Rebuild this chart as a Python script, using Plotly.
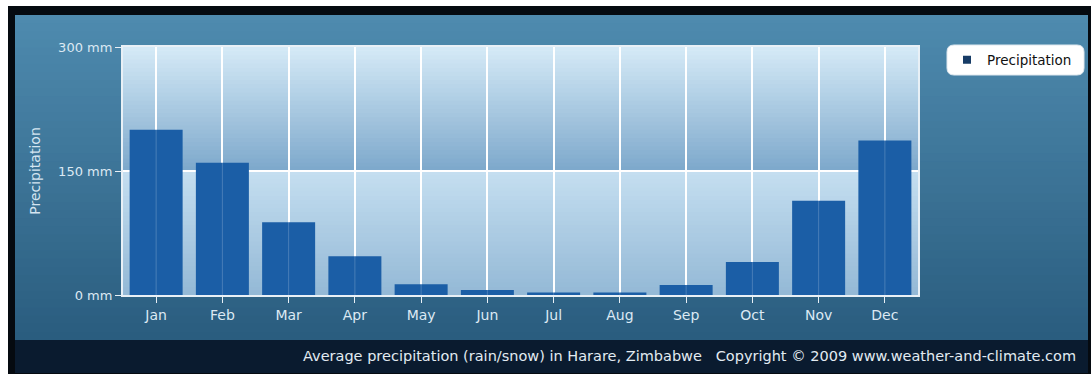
import plotly.graph_objects as go

# Monthly average precipitation, Harare (mm)
months = ["Jan", "Feb", "Mar", "Apr", "May", "Jun",
          "Jul", "Aug", "Sep", "Oct", "Nov", "Dec"]
precip_mm = [200, 160, 88, 47, 13, 6, 3, 3, 12, 40, 114, 187]
y_ticks = [0, 150, 300]
y_tick_labels = ["0 mm", "150 mm", "300 mm"]

W, H = 1091, 376
L, R, T, B = 123, 918, 47, 295   # plot area in pixels


def px(x):
    return (x - L) / (R - L)


def py(y):
    return (B - y) / (B - T)


def lerp(c1, c2, t):
    a = [int(c1[i:i + 2], 16) for i in (1, 3, 5)]
    b = [int(c2[i:i + 2], 16) for i in (1, 3, 5)]
    return "rgb({},{},{})".format(*[round(a[k] + (b[k] - a[k]) * t) for k in range(3)])


shapes = []

# outer white margin + black frame
shapes.append(dict(type="rect", xref="paper", yref="paper", layer="below",
                   x0=px(8), x1=px(W), y0=py(374), y1=py(6),
                   fillcolor="#050a10", line_width=0))

# teal chart background (vertical gradient); each strip runs to the
# bottom so the next one covers it without seams
n = 40
top_px, bot_px = 15, 340
for i in range(n):
    y0 = top_px + (bot_px - top_px) * i / n
    shapes.append(dict(type="rect", xref="paper", yref="paper", layer="below",
                       x0=px(15), x1=px(1088), y0=py(bot_px), y1=py(y0),
                       fillcolor=lerp("#4e8aae", "#2a5d7f", i / (n - 1)),
                       line_width=0))

# footer band
shapes.append(dict(type="rect", xref="paper", yref="paper", layer="below",
                   x0=px(15), x1=px(1088), y0=py(373), y1=py(340),
                   fillcolor="#0a1b2f", line_width=0))

# plot-area bands with their own gradients
bands = [(150, 300, "#d4e9f6", "#7ea9cc"), (0, 150, "#c4def0", "#94b9d6")]
m = 30
for lo, hi, c_top, c_bot in bands:
    for i in range(m):
        v1 = hi - (hi - lo) * i / m
        shapes.append(dict(type="rect", xref="paper", yref="y", layer="below",
                           x0=0, x1=1, y0=lo, y1=v1,
                           fillcolor=lerp(c_top, c_bot, i / (m - 1)),
                           line_width=0))

# faint gridlines showing through the bars
for mo in months:
    shapes.append(dict(type="line", xref="x", yref="paper", layer="above",
                       x0=mo, x1=mo, y0=0, y1=1,
                       line=dict(color="rgba(255,255,255,0.2)", width=1)))

# rounded legend box
lx0, lx1, ly0, ly1, r = px(947), px(1084), py(75), py(45), 7
rx = r / (R - L)
ry = r / (B - T)
path = (f"M {lx0+rx},{ly1} L {lx1-rx},{ly1} Q {lx1},{ly1} {lx1},{ly1-ry} "
        f"L {lx1},{ly0+ry} Q {lx1},{ly0} {lx1-rx},{ly0} L {lx0+rx},{ly0} "
        f"Q {lx0},{ly0} {lx0},{ly0+ry} L {lx0},{ly1-ry} Q {lx0},{ly1} {lx0+rx},{ly1} Z")
shapes.append(dict(type="path", xref="paper", yref="paper", layer="above",
                   path=path, fillcolor="#ffffff", line=dict(color="#dfe8ef", width=1)))

fig = go.Figure()
fig.add_trace(go.Bar(x=months, y=precip_mm, marker_color="#1b5ea6",
                     marker_line_width=0, showlegend=False, name="Precipitation"))
fig.add_trace(go.Scatter(x=[None], y=[None], mode="markers", name="Precipitation",
                         marker=dict(symbol="square", size=8, color="#173c66")))

tick_font = dict(family="DejaVu Sans", size=13, color="#dce9f3")
month_font = dict(family="DejaVu Sans", size=14, color="#dce9f3")

fig.update_layout(
    width=W, height=H,
    margin=dict(l=L, r=W - R, t=T, b=H - B, autoexpand=False),
    paper_bgcolor="#ffffff",
    plot_bgcolor="rgba(0,0,0,0)",
    bargap=0.2,
    shapes=shapes,
    showlegend=True,
    legend=dict(x=px(947), y=py(60), xanchor="left", yanchor="middle",
                bgcolor="rgba(0,0,0,0)", borderwidth=0,
                font=dict(family="DejaVu Sans", size=13.5, color="#111111"),
                itemwidth=30),
    xaxis=dict(showgrid=True, gridcolor="#ffffff", gridwidth=2,
               ticks="outside", ticklen=6, tickcolor="#e8f0f6", tickwidth=1,
               tickfont=month_font, showline=True, linecolor="#e8f0f6",
               linewidth=2, mirror=True, fixedrange=True),
    yaxis=dict(range=[0, 300], tickvals=y_ticks, ticktext=y_tick_labels,
               showgrid=True, gridcolor="#ffffff", gridwidth=2, zeroline=False,
               ticks="outside", ticklen=6, tickcolor="#e8f0f6",
               tickfont=tick_font, showline=True, linecolor="#e8f0f6",
               linewidth=2, mirror=True,
               title=dict(text="Precipitation",
                          font=dict(family="DejaVu Sans", size=14, color="#d4e5f1"),
                          standoff=14)),
    annotations=[dict(
        text="Average precipitation (rain/snow) in Harare, Zimbabwe   "
             "Copyright © 2009 www.weather-and-climate.com",
        xref="paper", yref="paper", x=px(1078), y=py(356),
        xanchor="right", yanchor="middle", showarrow=False,
        font=dict(family="DejaVu Sans", size=14.5, color="#e2ebf2"))],
)

fig.write_html("out.html")
